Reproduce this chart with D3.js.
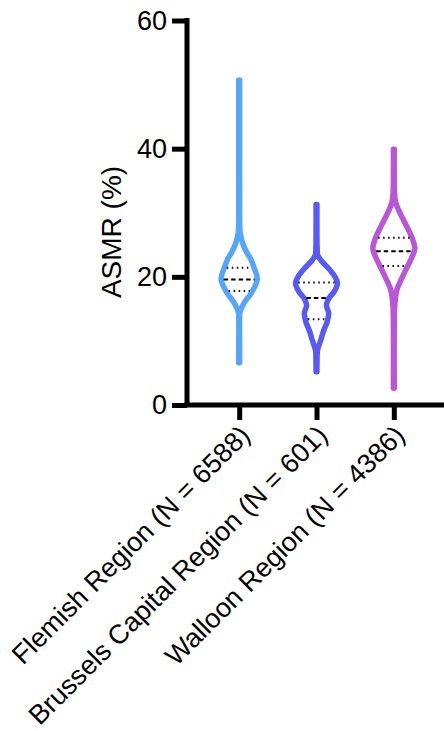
<!DOCTYPE html>
<html>
<head>
<meta charset="utf-8">
<script src="https://cdn.jsdelivr.net/npm/d3@7"></script>
<style>
  body { margin: 0; background: #fff; }
  text { font-family: "Liberation Sans", Arial, sans-serif; fill: #000; }
</style>
</head>
<body>
<script>
// categories and summary stats
var categories = ["Flemish Region (N = 6588)", "Brussels Capital Region (N = 601)", "Walloon Region (N = 4386)"];
var yTicks = [0, 20, 40, 60];
var medians = [19.6, 16.7, 24.0];
var lowerQuartiles = [17.8, 13.4, 21.7];
var upperQuartiles = [21.4, 19.1, 26.1];

// violin outlines: [ASMR value, relative density]
var flemishViolin = [
  [50.7, 0.02], [40, 0.02], [30, 0.02], [27.5, 0.03], [26.8, 0.05], [25.2, 0.17],
  [23.8, 0.36], [22.9, 0.53], [21.5, 0.70], [19.6, 0.86], [17.5, 0.58],
  [15.9, 0.23], [14.5, 0.04], [13.5, 0.02], [10, 0.02], [6.6, 0.02]
];
var brusselsViolin = [
  [31.3, 0.02], [27, 0.02], [24.5, 0.03], [23.4, 0.06], [22.3, 0.28], [21.3, 0.58],
  [20.0, 0.88], [19.0, 1.0], [17.7, 0.84], [16.6, 0.58], [15.6, 0.47],
  [14.3, 0.58], [13.0, 0.51], [11.7, 0.35], [10.1, 0.2], [8.6, 0.05],
  [7.8, 0.03], [5.2, 0.02]
];
var walloonViolin = [
  [39.9, 0.02], [35, 0.02], [33.5, 0.03], [31.9, 0.07], [30.4, 0.23], [28.8, 0.47],
  [27.3, 0.70], [26.0, 0.88], [24.4, 1.0], [22.9, 0.84], [21.3, 0.60],
  [19.7, 0.37], [17.9, 0.14], [15.3, 0.04], [12, 0.02], [2.6, 0.02]
];
var violins = [flemishViolin, brusselsViolin, walloonViolin];
var colors = ["#55a5fa", "#585af5", "#b956d7"];

var svgWidth = 444;
var svgHeight = 731;

var svg = d3.select("body")
  .append("svg")
  .attr("width", svgWidth)
  .attr("height", svgHeight);

var axisX = 187;

// scales
var yScale = d3.scaleLinear()
  .domain([0, 60])
  .range([405, 20.5]);

var xScale = d3.scalePoint()
  .domain(categories)
  .range([axisX, 446])
  .padding(0.675);

var widthScale = d3.scaleLinear()
  .domain([0, 1])
  .range([0, 21]);

// violins
violins.forEach(function(v, i) {
  var cx = xScale(categories[i]);
  var area = d3.area()
    .y(d => yScale(d[0]))
    .x0(d => cx - widthScale(d[1]))
    .x1(d => cx + widthScale(d[1]))
    .curve(d3.curveCatmullRom.alpha(0.5));

  svg.append("path")
    .datum(v)
    .attr("d", area)
    .attr("fill", "#fff")
    .attr("stroke", colors[i])
    .attr("stroke-width", 5.5)
    .attr("stroke-linejoin", "round")
    .attr("stroke-linecap", "round");

  // half width lookup for stat lines
  var halfW = d3.scaleLinear()
    .domain(v.map(d => d[0]))
    .range(v.map(d => widthScale(d[1])));

  var stats = [
    {val: medians[i], dash: "4.5,3"},
    {val: lowerQuartiles[i], dash: "1.5,3.5"},
    {val: upperQuartiles[i], dash: "1.5,3.5"}
  ];
  stats.forEach(function(s) {
    var w = halfW(s.val) - 2.5;
    svg.append("line")
      .attr("x1", cx - w)
      .attr("x2", cx + w)
      .attr("y1", yScale(s.val))
      .attr("y2", yScale(s.val))
      .attr("stroke", "#000")
      .attr("stroke-width", 2)
      .attr("stroke-dasharray", s.dash);
  });
});

// y axis
var leftAxis = d3.axisLeft(yScale)
  .tickValues(yTicks)
  .tickSize(15)
  .tickSizeOuter(0)
  .tickPadding(5);

var yAxisG = svg.append("g")
  .attr("transform", `translate(${axisX}, 0)`)
  .call(leftAxis);

yAxisG.select(".domain")
  .attr("stroke-width", 5)
  .attr("d", `M0,${yScale(60) - 2.5}V${yScale(0)}`);
yAxisG.selectAll(".tick line").attr("stroke-width", 5);
yAxisG.selectAll(".tick text")
  .style("font-size", "27px")
  .attr("font-family", null);

// x axis
var bottomAxis = d3.axisBottom(xScale)
  .tickSize(15)
  .tickSizeOuter(0);

var xAxisG = svg.append("g")
  .attr("transform", `translate(0, ${yScale(0)})`)
  .call(bottomAxis);

xAxisG.select(".domain")
  .attr("stroke-width", 5)
  .attr("d", `M${axisX - 2.5},0H${svgWidth}`);
xAxisG.selectAll(".tick line").attr("stroke-width", 5);
xAxisG.selectAll(".tick text")
  .style("font-size", "27px")
  .attr("font-family", null)
  .attr("text-anchor", "end")
  .attr("x", 0)
  .attr("y", 0)
  .attr("dy", null)
  .attr("transform", "translate(12, 32) rotate(-45)");

// y axis title
svg.append("text")
  .attr("transform", "translate(121, 232) rotate(-90)")
  .attr("text-anchor", "middle")
  .style("font-size", "28px")
  .text("ASMR (%)");
</script>
</body>
</html>
